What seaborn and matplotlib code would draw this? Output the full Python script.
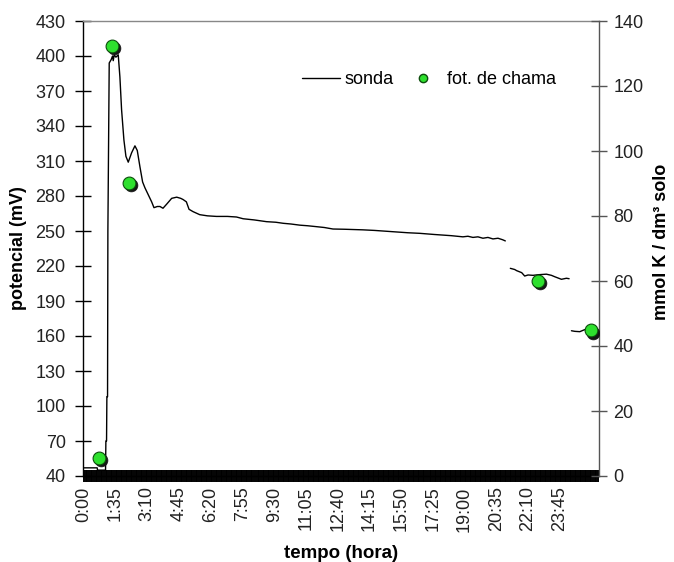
import matplotlib
matplotlib.use("Agg")
import matplotlib.pyplot as plt
import matplotlib.transforms as mtransforms
from matplotlib.lines import Line2D
from matplotlib.ticker import FixedLocator, MultipleLocator
import pandas as pd
import seaborn as sns

# Probe readings: minutes since start and electrode potential (mV), three recording stretches
sonda_t1 = [0, 40, 41, 65, 66, 68, 69, 71, 72, 76, 82, 86, 88, 91, 96, 103, 108, 113, 120,
            126, 133, 143, 153, 160, 168, 176, 183, 193, 203, 210, 220, 228, 237, 248, 263,
            278, 290, 297, 307, 315, 327, 347, 370, 397, 430, 457, 477, 510, 547, 575, 597,
            620, 647, 670, 697, 720, 746, 780, 835, 870, 920, 970, 1006, 1050, 1100, 1135,
            1150, 1165, 1180, 1195, 1210, 1225, 1240, 1254, 1262]
sonda_mv1 = [47, 47, 45, 45, 70, 70, 108, 108, 250, 394, 397, 400, 396, 401, 399, 401, 382,
             354, 328, 314, 309, 317, 323, 319, 305, 292, 287, 281, 275, 270, 271, 271, 269.5,
             273, 278, 279, 278, 277, 275, 268.6, 266.6, 264, 263, 262.5, 262.5, 262, 260.5,
             259.5, 258, 257.5, 256.6, 256, 255, 254.5, 253.7, 253, 251.7, 251.5, 251, 250.5,
             249.5, 248.5, 248, 247, 246, 245, 245.5, 244.5, 245, 243.8, 244.5, 243.2, 243.8,
             242.5, 241.5]
sonda_t2 = [1277, 1290, 1296, 1311, 1320, 1330, 1345, 1360, 1385, 1400, 1410, 1430, 1445, 1453]
sonda_mv2 = [218, 217, 216, 214.3, 211.4, 212.3, 212, 212.5, 213, 212, 210.8, 208.6, 209.5, 209.1]
sonda_t3 = [1460, 1470, 1485, 1500, 1510, 1525, 1539]
sonda_mv3 = [164.5, 164, 163.7, 165.5, 164, 162, 162.5]

# Flame photometry: minutes since start and K (mmol / dm3 soil)
chama_t = [45, 85, 135, 1360, 1520]
chama_k = [5.6, 132.4, 90.2, 60.1, 44.9]

# Time axis labels (every 95 min)
tick_min = [0, 95, 190, 285, 380, 475, 570, 665, 760, 855, 950, 1045, 1140, 1235, 1330, 1425]
tick_lbl = ["0:00", "1:35", "3:10", "4:45", "6:20", "7:55", "9:30", "11:05", "12:40",
            "14:15", "15:50", "17:25", "19:00", "20:35", "22:10", "23:45"]
mv_ticks = [40, 70, 100, 130, 160, 190, 220, 250, 280, 310, 340, 370, 400, 430]
k_ticks = [0, 20, 40, 60, 80, 100, 120, 140]

sns.set_theme(style="white")
plt.rcParams["font.family"] = ["Liberation Sans", "DejaVu Sans"]
plt.rcParams["text.color"] = "black"

W, H = 674, 562
fig = plt.figure(figsize=(W / 100, H / 100), dpi=100)
ax = fig.add_axes([83 / W, 1 - 476 / H, (599 - 83) / W, (476 - 21) / H])
ax2 = ax.twinx()

sonda = pd.DataFrame({
    "tempo": sonda_t1 + sonda_t2 + sonda_t3,
    "mV": sonda_mv1 + sonda_mv2 + sonda_mv3,
    "trecho": [1] * len(sonda_t1) + [2] * len(sonda_t2) + [3] * len(sonda_t3),
})
sns.lineplot(data=sonda, x="tempo", y="mV", units="trecho", estimator=None,
             color="black", linewidth=1.0, ax=ax, legend=False)

chama = pd.DataFrame({"tempo": chama_t, "K": chama_k})
shadow = mtransforms.offset_copy(ax2.transData, fig=fig, x=2, y=-2.5, units="dots")
sns.scatterplot(data=chama, x="tempo", y="K", ax=ax2, s=85, color="#151515",
                edgecolor="#151515", linewidth=0.5, transform=shadow, legend=False, zorder=3)
sns.scatterplot(data=chama, x="tempo", y="K", ax=ax2, s=85, color="#2ee02e",
                edgecolor="#0d4d0d", linewidth=0.8, legend=False, zorder=4)

# Axes ranges and ticks
ax.set_xlim(-2.5, 1542.5)
ax.set_ylim(40, 430)
ax2.set_ylim(0, 140)
ax.set_yticks(mv_ticks)
ax2.set_yticks(k_ticks)
ax.xaxis.set_major_locator(FixedLocator(tick_min))
ax.set_xticklabels(tick_lbl, rotation=90)
ax.xaxis.set_minor_locator(MultipleLocator(5))

ax.tick_params(axis="y", direction="inout", length=12, width=1, color="black",
               labelsize=13, pad=6.5, left=True, labelcolor="#222222")
ax2.tick_params(axis="y", direction="inout", length=11, width=1, color="#555555",
                labelsize=13, pad=5, right=True, labelcolor="#222222")
ax.tick_params(axis="x", which="major", direction="inout", length=8, width=1.4,
               color="black", labelsize=13, pad=3.5, bottom=True, labelcolor="#222222")
ax.tick_params(axis="x", which="minor", direction="inout", length=8, width=1.4,
               color="black", bottom=True)

ax.set_xlabel("")
ax.set_ylabel("")
ax2.set_ylabel("")

for name, sp in ax.spines.items():
    sp.set_visible(name in ("left", "bottom", "top"))
ax.spines["left"].set_color("black")
ax.spines["bottom"].set_color("black")
ax.spines["top"].set_color("#888888")
for name, sp in ax2.spines.items():
    sp.set_visible(name == "right")
ax2.spines["right"].set_color("#555555")
for sp in list(ax.spines.values()) + list(ax2.spines.values()):
    sp.set_linewidth(1.0)

# Axis titles
fig.text(19 / W, 1 - 248 / H, "potencial (mV)", rotation=90, ha="center", va="center",
         fontsize=13, fontweight="bold")
fig.text(662 / W, 1 - 242 / H, "mmol K / dm³ solo", rotation=90, ha="center", va="center",
         fontsize=13, fontweight="bold")
fig.text(341 / W, 1 - 545 / H, "tempo (hora)", ha="center", va="top",
         fontsize=13.5, fontweight="bold")

# Legend
handles = [
    Line2D([], [], color="black", linewidth=1.0, label="sonda"),
    Line2D([], [], linestyle="none", marker="o", markersize=6, markerfacecolor="#2ee02e",
           markeredgecolor="#0d4d0d", markeredgewidth=1.0, label="fot. de chama"),
]
fig.legend(handles=handles, loc="center", bbox_to_anchor=(429 / W, 1 - 80 / H),
           ncol=2, frameon=False, fontsize=13, handlelength=2.1, handletextpad=0.25,
           columnspacing=0.6)

fig.savefig("out.png", dpi=100)
